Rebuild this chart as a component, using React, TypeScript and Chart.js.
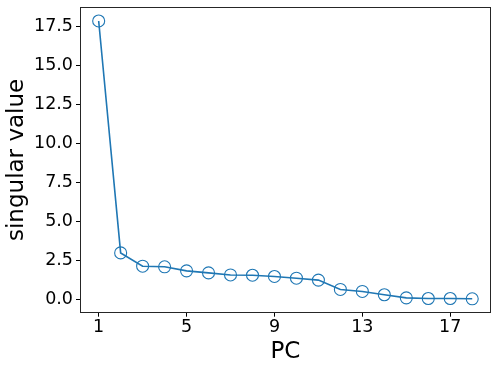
import React, { useEffect, useRef } from "react";
import { Chart, registerables } from "chart.js";

Chart.register(...registerables);

const pcs = [1, 2, 3, 4, 5, 6, 7, 8, 9, 10, 11, 12, 13, 14, 15, 16, 17, 18];
const singularValues = [17.84, 2.98, 2.13, 2.09, 1.83, 1.7, 1.57, 1.55, 1.47, 1.36, 1.24, 0.64, 0.51, 0.3, 0.1, 0.06, 0.06, 0.04];
const xTicks = [1, 5, 9, 13, 17];
const yTicks = [0, 2.5, 5, 7.5, 10, 12.5, 15, 17.5];

const FONT = "'DejaVu Sans', sans-serif";

const boxPlugin = {
  id: "boxPlugin",
  afterDraw(chart: any) {
    const { ctx, chartArea } = chart;
    ctx.save();
    ctx.strokeStyle = "#262626";
    ctx.lineWidth = 1;
    const l = Math.round(chartArea.left) + 0.5;
    const t = Math.round(chartArea.top) + 0.5;
    const r = Math.round(chartArea.right) - 0.5;
    const b = Math.round(chartArea.bottom) - 0.5;
    ctx.strokeRect(l, t, r - l, b - t);
    ctx.restore();
  },
};

export default function App() {
  const ref = useRef<HTMLCanvasElement | null>(null);
  useEffect(() => {
    if (!ref.current) return;
    const chart = new Chart(ref.current, {
      type: "line",
      data: {
        datasets: [
          {
            data: pcs.map((p, i) => ({ x: p, y: singularValues[i] })),
            borderColor: "#1f77b4",
            borderWidth: 1.6,
            backgroundColor: "rgba(0,0,0,0)",
            pointBorderColor: "#1f77b4",
            pointBackgroundColor: "rgba(0,0,0,0)",
            pointRadius: 6,
            pointBorderWidth: 1.1,
            tension: 0,
          },
        ],
      },
      options: {
        animation: false,
        responsive: false,
        layout: { padding: { top: 6, right: 7, left: 0, bottom: 0 } },
        plugins: { legend: { display: false }, tooltip: { enabled: false } },
        scales: {
          x: {
            type: "linear",
            min: 0.15,
            max: 18.85,
            afterBuildTicks: (s: any) => {
              s.ticks = xTicks.map((v) => ({ value: v }));
            },
            afterFit: (s: any) => {
              s.height = 57.3;
              s.paddingLeft = 0;
              s.paddingRight = 0;
            },
            grid: { drawOnChartArea: false, drawTicks: true, tickLength: 4, tickColor: "#000", tickWidth: 1 },
            border: { display: false },
            ticks: {
              color: "#000",
              padding: 2,
              maxRotation: 0,
              autoSkip: false,
              font: { family: FONT, size: 17.5, lineHeight: 1 },
              callback: (v: any) => String(v),
            },
            title: {
              display: true,
              text: "PC",
              color: "#000",
              font: { family: FONT, size: 23, lineHeight: 1 },
              padding: { top: 0, bottom: 6.5 },
            },
          },
          y: {
            type: "linear",
            min: -0.85,
            max: 18.73,
            afterBuildTicks: (s: any) => {
              s.ticks = yTicks.map((v) => ({ value: v }));
            },
            afterFit: (s: any) => {
              s.width = 80;
              s.paddingTop = 0;
              s.paddingBottom = 0;
            },
            grid: { drawOnChartArea: false, drawTicks: true, tickLength: 4, tickColor: "#000", tickWidth: 1 },
            border: { display: false },
            ticks: {
              color: "#000",
              padding: 3,
              autoSkip: false,
              font: { family: FONT, size: 17.5, lineHeight: 1 },
              callback: (v: any) => Number(v).toFixed(1),
            },
            title: {
              display: true,
              text: "singular value",
              color: "#000",
              font: { family: FONT, size: 23, lineHeight: 1 },
              padding: { top: 5.5, bottom: 0 },
            },
          },
        },
      },
      plugins: [boxPlugin],
    });
    return () => chart.destroy();
  }, []);
  return (
    <div style={{ position: "absolute", left: 0, top: 0, width: 498, height: 370, background: "#fff" }}>
      <canvas ref={ref} width={498} height={370} />
    </div>
  );
}
